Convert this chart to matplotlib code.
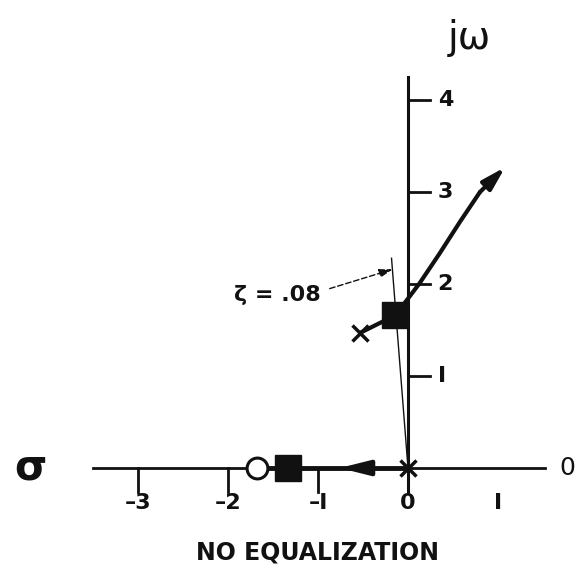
import numpy as np
import matplotlib.pyplot as plt

# ── Root locus data (s-plane) ────────────────────────────────────────────────
real_ticks = [-3, -2, -1, 0, 1]
imag_ticks = [1, 2, 3, 4]

poles = [(0.0, 0.0), (-0.53, 1.47)]
zeros = [(-1.68, 0.0)]
closed_loop = [(-1.33, 0.0), (-0.14, 1.66)]

# complex branch from the pole towards the right half plane
branch_sig = [-0.53, -0.14, 0.13, 0.35, 0.58, 0.80, 1.08]
branch_om = [1.47, 1.66, 2.01, 2.33, 2.68, 3.00, 3.27]
# real-axis branch: origin pole -> zero
real_branch = [0.0, -1.68]
real_arrow = (-0.40, -0.76)

zeta = 0.08
zeta_top = 2.28

INK = "#111111"
FONT = "DejaVu Sans"

# pixel layout: 90 px per unit in sigma, 92 px per unit in omega
W, H = 577, 582
X0, Y0, SX, SY = 408, 468, 90, 92

fig = plt.figure(figsize=(W / 100, H / 100), dpi=100)
ax = fig.add_axes([0, 0, 1, 1])
ax.set_xlim(-X0 / SX, (W - X0) / SX)
ax.set_ylim(-(H - Y0) / SY, Y0 / SY)
ax.axis("off")

# axes
ax.plot([-3.5, 1.52], [0, 0], color=INK, lw=2.0, zorder=2)
ax.plot([0, 0], [-0.26, 4.25], color=INK, lw=2.2, zorder=2)
for t in real_ticks[:-2]:
    ax.plot([t, t], [0, -0.26], color=INK, lw=2.0)
for t in imag_ticks:
    ax.plot([0, 0.25], [t, t], color=INK, lw=2.0)

for t in real_ticks:
    lab = "0" if t == 0 else ("I" if t == 1 else f"\u2013{abs(t)}".replace("1", "I"))
    ax.text(t, -0.27, lab, ha="center", va="top", fontsize=16,
            fontweight="bold", family=FONT, color=INK)
for t in imag_ticks:
    lab = "I" if t == 1 else str(t)
    ax.text(0.33, t, lab, ha="left", va="center", fontsize=16,
            fontweight="bold", family=FONT, color=INK)

ax.text(1.77, 0, "0", ha="center", va="center", fontsize=18,
        family=FONT, color=INK)
ax.text(-4.2, 0, "σ", ha="center", va="center", fontsize=30,
        fontweight="bold", family=FONT, color=INK)
ax.text(0.68, 4.67, "jω", ha="center", va="center", fontsize=28,
        family=FONT, color=INK)

# constant damping line
ang = np.arccos(zeta)
ax.plot([0, -zeta_top / np.tan(ang)], [0, zeta_top], color=INK, lw=1.0)

# real-axis locus with direction arrow
ax.plot(real_branch, [0, 0], color=INK, lw=3.5, zorder=3)
ax.annotate("", xy=(real_arrow[1], 0), xytext=(real_arrow[0], 0),
            arrowprops=dict(arrowstyle="-|>,head_length=1.8,head_width=0.45",
                            color=INK, lw=3.0, shrinkA=0, shrinkB=0), zorder=4)

# complex branch with arrowhead at the end
ax.plot(branch_sig[:-1], branch_om[:-1], color=INK, lw=3.0, zorder=3,
        solid_capstyle="round")
ax.annotate("", xy=(branch_sig[-1], branch_om[-1]),
            xytext=(branch_sig[-2], branch_om[-2]),
            arrowprops=dict(arrowstyle="-|>,head_length=1.4,head_width=0.4",
                            color=INK, lw=3.0, shrinkA=0, shrinkB=0), zorder=4)

# poles, zeros, closed-loop roots
px, py = zip(*poles)
ax.plot(px, py, "x", ms=12, mew=2.5, color=INK, zorder=5)
zx, zy = zip(*zeros)
ax.plot(zx, zy, "o", ms=15, mew=2.2, mfc="white", color=INK, zorder=5)
cx, cy = zip(*closed_loop)
ax.plot(cx, cy, "s", ms=19, color=INK, zorder=6)

# damping label with dashed leader
ax.text(-1.45, 1.88, "ζ = .08", ha="center", va="center", fontsize=16,
        fontweight="bold", family=FONT, color=INK)
ax.annotate("", xy=(-0.17, 2.16), xytext=(-0.87, 1.95),
            arrowprops=dict(arrowstyle="-|>,head_length=0.8,head_width=0.25",
                            color=INK, lw=1.0, ls=(0, (4, 2)),
                            shrinkA=0, shrinkB=0))

ax.text(-1.0, -0.92, "NO EQUALIZATION", ha="center", va="center",
        fontsize=17, fontweight="bold", family=FONT, color=INK)

fig.savefig("out.png", dpi=100, facecolor="white")
